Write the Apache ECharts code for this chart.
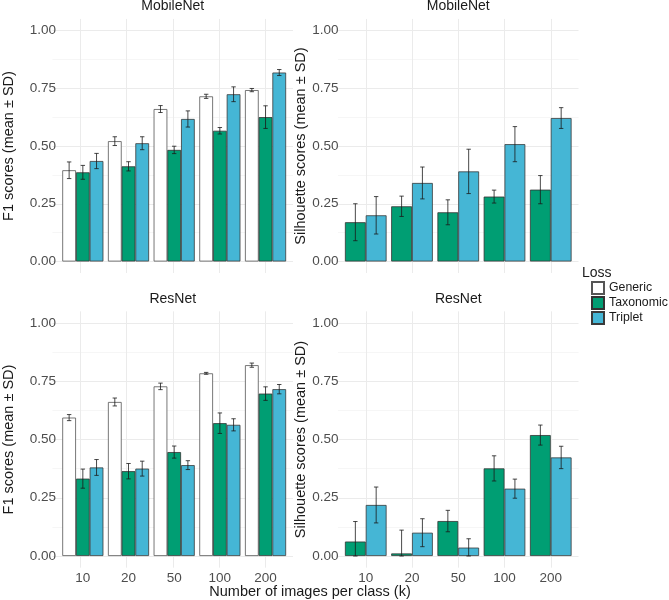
<!DOCTYPE html>
<html>
<head>
<meta charset="utf-8">
<script src="https://cdn.jsdelivr.net/npm/echarts@6/dist/echarts.min.js"></script>
<style>html,body{margin:0;padding:0;background:#fff;}#chart{width:669px;height:600px;}</style>
</head>
<body>
<div id="chart"></div>
<script>
// ---------- data ----------
const categories = ['10', '20', '50', '100', '200'];
const yTicks = [0, 0.25, 0.5, 0.75, 1];

// F1 scores, MobileNet
const f1MobileGeneric     = [0.395, 0.521, 0.660, 0.715, 0.742];
const f1MobileGenericSD   = [0.036, 0.019, 0.015, 0.009, 0.007];
const f1MobileTaxonomic   = [0.386, 0.412, 0.483, 0.566, 0.625];
const f1MobileTaxonomicSD = [0.030, 0.020, 0.016, 0.014, 0.049];
const f1MobileTriplet     = [0.435, 0.512, 0.617, 0.724, 0.818];
const f1MobileTripletSD   = [0.033, 0.028, 0.035, 0.032, 0.013];

// Silhouette scores, MobileNet
const silMobileTaxonomic   = [0.170, 0.239, 0.213, 0.281, 0.311];
const silMobileTaxonomicSD = [0.080, 0.044, 0.054, 0.028, 0.061];
const silMobileTriplet     = [0.200, 0.340, 0.390, 0.508, 0.621];
const silMobileTripletSD   = [0.081, 0.069, 0.096, 0.076, 0.045];

// F1 scores, ResNet
const f1ResGeneric     = [0.594, 0.661, 0.728, 0.784, 0.819];
const f1ResGenericSD   = [0.013, 0.017, 0.014, 0.004, 0.009];
const f1ResTaxonomic   = [0.332, 0.364, 0.446, 0.570, 0.697];
const f1ResTaxonomicSD = [0.041, 0.033, 0.026, 0.044, 0.029];
const f1ResTriplet     = [0.380, 0.375, 0.390, 0.563, 0.716];
const f1ResTripletSD   = [0.034, 0.032, 0.019, 0.026, 0.020];

// Silhouette scores, ResNet
const silResTaxonomic   = [0.062, 0.011, 0.150, 0.376, 0.519];
const silResTaxonomicSD = [0.086, 0.100, 0.046, 0.054, 0.043];
const silResTriplet     = [0.219, 0.100, 0.036, 0.289, 0.423];
const silResTripletSD   = [0.077, 0.060, 0.038, 0.041, 0.048];

const lossNames = ['Generic', 'Taxonomic', 'Triplet'];

// ---------- styles / layout ----------
const FONT = "'Liberation Sans', Arial, sans-serif";
const fills = {Generic: '#FFFFFF', Taxonomic: '#009E73', Triplet: '#45B6D5'};
const borders = {Generic: '#555555', Taxonomic: '#333333', Triplet: '#3a3a3a'};

const panels = [
  {strip: 'MobileNet', px: 52.5, y1: 30.5, y0: 261.5, title: 'F1 scores (mean ± SD)', gap: 44, xlab: false,
   series: [['Generic', f1MobileGeneric, f1MobileGenericSD], ['Taxonomic', f1MobileTaxonomic, f1MobileTaxonomicSD], ['Triplet', f1MobileTriplet, f1MobileTripletSD]]},
  {strip: 'MobileNet', px: 338, y1: 30.5, y0: 261.5, title: 'Silhouette scores (mean ± SD)', gap: 34, xlab: false,
   series: [['Taxonomic', silMobileTaxonomic, silMobileTaxonomicSD], ['Triplet', silMobileTriplet, silMobileTripletSD]]},
  {strip: 'ResNet', px: 52.5, y1: 323, y0: 556, title: 'F1 scores (mean ± SD)', gap: 44, xlab: true,
   series: [['Generic', f1ResGeneric, f1ResGenericSD], ['Taxonomic', f1ResTaxonomic, f1ResTaxonomicSD], ['Triplet', f1ResTriplet, f1ResTripletSD]]},
  {strip: 'ResNet', px: 338, y1: 323, y0: 556, title: 'Silhouette scores (mean ± SD)', gap: 34, xlab: true,
   series: [['Taxonomic', silResTaxonomic, silResTaxonomicSD], ['Triplet', silResTriplet, silResTripletSD]]}
];

const PW = 240.5;            // panel width
const U = PW / 5.2;          // one category unit
const grids = [], xAxes = [], yAxes = [], series = [], graphics = [];

panels.forEach((p, pi) => {
  const h = p.y0 - p.y1;
  const ext = 0.05 * h;
  const gBase = pi * 3;
  // grid A: horizontal grid lines, full panel width
  grids.push({left: p.px, top: p.y1, width: PW, height: h, containLabel: false});
  xAxes.push({gridIndex: gBase, type: 'value', min: 0, max: 1, show: false});
  yAxes.push({gridIndex: gBase, type: 'value', min: 0, max: 1, interval: 0.25,
    axisLine: {show: false}, axisTick: {show: false}, axisLabel: {show: false},
    splitLine: {show: true, lineStyle: {color: '#EBEBEB', width: 1}},
    minorTick: {show: false, splitNumber: 2},
    minorSplitLine: {show: true, lineStyle: {color: '#F2F2F2', width: 0.7}}});
  // grid B: vertical grid lines, full panel height
  grids.push({left: p.px + 0.1 * U, top: p.y1 - ext, width: 5 * U, height: h + 2 * ext, containLabel: false});
  xAxes.push({gridIndex: gBase + 1, type: 'category', data: categories,
    axisLine: {show: false}, axisTick: {show: false}, axisLabel: {show: false},
    splitLine: {show: true, interval: 0, alignWithLabel: true, lineStyle: {color: '#EBEBEB', width: 1}}});
  yAxes.push({gridIndex: gBase + 1, type: 'value', min: 0, max: 1, show: false});
  // grid C: main bars
  grids.push({left: p.px + 0.1 * U, top: p.y1, width: 5 * U, height: h, containLabel: false});
  xAxes.push({gridIndex: gBase + 2, type: 'category', data: categories,
    axisLine: {show: false}, axisTick: {show: false}, splitLine: {show: false},
    axisLabel: {show: p.xlab, margin: 15, fontSize: 13.5, color: '#4D4D4D', fontFamily: FONT}});
  yAxes.push({gridIndex: gBase + 2, type: 'value', min: 0, max: 1, interval: 0.25,
    axisLine: {show: false}, axisTick: {show: false}, splitLine: {show: false},
    axisLabel: {margin: 4, fontSize: 13.5, color: '#4D4D4D', fontFamily: FONT,
      formatter: v => v.toFixed(2)},
    name: p.title, nameLocation: 'middle', nameGap: p.gap,
    nameTextStyle: {fontSize: 14.5, color: '#1A1A1A', fontFamily: FONT}});

  const n = p.series.length;
  p.series.forEach((s, k) => {
    const [name, vals, sds] = s;
    series.push({
      type: 'bar', name: name, xAxisIndex: gBase + 2, yAxisIndex: gBase + 2,
      data: vals, barGap: '0%', barCategoryGap: '10%',
      itemStyle: {color: fills[name], borderColor: borders[name], borderWidth: 0.8},
      emphasis: {disabled: true}, z: 2
    });
  });
  p.series.forEach((s, k) => {
    const [name, vals, sds] = s;
    const errData = vals.map((v, i) => [i, Math.max(0, v - sds[i]), v + sds[i]]);
    series.push({
      type: 'custom', xAxisIndex: gBase + 2, yAxisIndex: gBase + 2, z: 5, silent: true,
      encode: {x: 0, y: [1, 2]},
      data: errData,
      renderItem: (params, api) => {
        const band = api.size([1, 0])[0];
        const bw = band * 0.9 / n;
        const xc = api.coord([api.value(0), 0])[0] + (k - (n - 1) / 2) * bw;
        const yTop = api.coord([api.value(0), api.value(2)])[1];
        const yBot = api.coord([api.value(0), api.value(1)])[1];
        const cw = 2.2;
        const st = {stroke: '#1A1A1A', lineWidth: 0.8, fill: null};
        return {type: 'group', children: [
          {type: 'line', shape: {x1: xc, y1: yTop, x2: xc, y2: yBot}, style: st},
          {type: 'line', shape: {x1: xc - cw, y1: yTop, x2: xc + cw, y2: yTop}, style: st},
          {type: 'line', shape: {x1: xc - cw, y1: yBot, x2: xc + cw, y2: yBot}, style: st}
        ]};
      }
    });
  });

  graphics.push({type: 'text', x: p.px + PW / 2, y: p.y1 - ext - 12.5,
    style: {text: p.strip, align: 'center', verticalAlign: 'middle', fontSize: 14, fill: '#1A1A1A', fontFamily: FONT}});
});

graphics.push({type: 'text', x: 310, y: 592,
  style: {text: 'Number of images per class (k)', align: 'center', verticalAlign: 'middle', fontSize: 14.5, fill: '#1A1A1A', fontFamily: FONT}});
graphics.push({type: 'text', x: 582, y: 273,
  style: {text: 'Loss', align: 'left', verticalAlign: 'middle', fontSize: 14, fill: '#1A1A1A', fontFamily: FONT}});

const chart = echarts.init(document.getElementById('chart'), null, {renderer: 'canvas'});
chart.setOption({
  backgroundColor: '#FFFFFF',
  animation: false,
  grid: grids,
  xAxis: xAxes,
  yAxis: yAxes,
  series: series,
  graphic: graphics,
  legend: {
    data: lossNames, orient: 'vertical', left: 591, top: 281, padding: 0,
    icon: 'rect', itemWidth: 12, itemHeight: 12, itemGap: 1, selectedMode: false,
    textStyle: {fontSize: 12.3, lineHeight: 12, color: '#1A1A1A', fontFamily: FONT}
  }
});
</script>
</body>
</html>
